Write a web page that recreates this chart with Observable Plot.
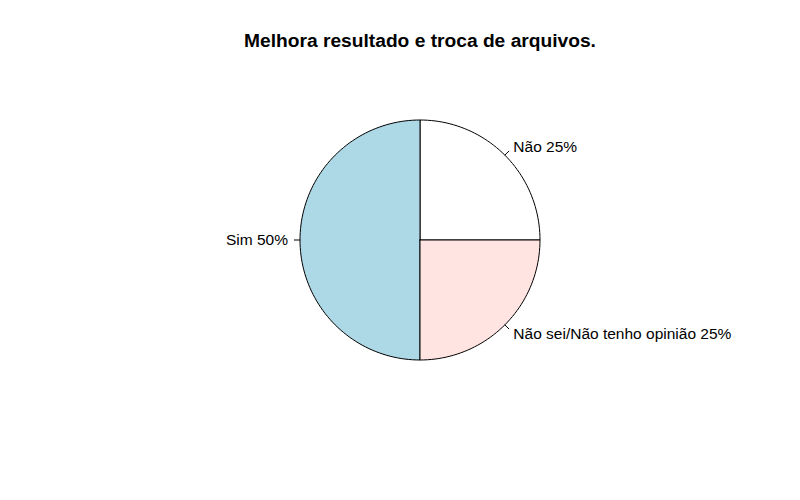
<!DOCTYPE html>
<html>
<head>
<meta charset="utf-8">
<script src="https://cdn.jsdelivr.net/npm/d3@7"></script>
<script src="https://cdn.jsdelivr.net/npm/@observablehq/plot@0.6"></script>
<style>
  html, body { margin: 0; padding: 0; background: #fff; }
  svg { display: block; }
</style>
</head>
<body>
<div id="chart"></div>
<script>
const title = "Melhora resultado e troca de arquivos.";
const categories = ["Não", "Sim", "Não sei/Não tenho opinião"];
const values = [25, 50, 25];
const colors = ["white", "lightblue", "mistyrose"];
const labels = ["Não 25%", "Sim 50%", "Não sei/Não tenho opinião 25%"];

const R = 120;           // pie radius in pixel units
const total = d3.sum(values);
const cum = [0];
values.forEach((v, i) => cum.push(cum[i] + v / total));

// Build slice polygons (R pie style: counterclockwise from 3 o'clock)
const polyPts = [];
const ticks = [];
values.forEach((v, i) => {
  const a0 = 2 * Math.PI * cum[i], a1 = 2 * Math.PI * cum[i + 1];
  const n = Math.max(2, Math.floor(200 * (cum[i + 1] - cum[i])));
  polyPts.push({cat: categories[i], col: colors[i], x: 0, y: 0});
  for (let k = 0; k <= n; k++) {
    const a = a0 + (a1 - a0) * k / n;
    polyPts.push({cat: categories[i], col: colors[i], x: R * Math.cos(a), y: R * Math.sin(a)});
  }
  polyPts.push({cat: categories[i], col: colors[i], x: 0, y: 0});
  const am = (a0 + a1) / 2;
  ticks.push({
    label: labels[i],
    x1: R * Math.cos(am), y1: R * Math.sin(am),
    x2: 1.05 * R * Math.cos(am), y2: 1.05 * R * Math.sin(am),
    lx: 1.1 * R * Math.cos(am), ly: 1.1 * R * Math.sin(am),
    right: Math.cos(am) >= 0
  });
});

const font = "'Liberation Sans', Arial, sans-serif";
const chart = Plot.plot({
  width: 800,
  height: 500,
  margin: 0,
  x: {domain: [-419.5, 380.5], axis: null},
  y: {domain: [-260.5, 239.5], axis: null},
  color: {type: "identity"},
  style: {fontFamily: font, background: "white"},
  marks: [
    Plot.line(polyPts, {x: "x", y: "y", z: "cat", fill: "col", stroke: "black", strokeWidth: 1, curve: "linear"}),
    Plot.link(ticks, {x1: "x1", y1: "y1", x2: "x2", y2: "y2", stroke: "black", strokeWidth: 1}),
    Plot.text(ticks.filter(d => d.right), {x: "lx", y: "ly", text: "label", textAnchor: "start", fontSize: 15.5, fill: "black", dy: 0.5}),
    Plot.text(ticks.filter(d => !d.right), {x: "lx", y: "ly", text: "label", textAnchor: "end", fontSize: 15.5, fill: "black", dy: 0.5}),
    Plot.text([title], {x: [0], y: [199.5], text: d => d, textAnchor: "middle", fontSize: 19.2, fontWeight: "bold", fill: "black"})
  ]
});
document.getElementById("chart").appendChild(chart);
</script>
</body>
</html>
